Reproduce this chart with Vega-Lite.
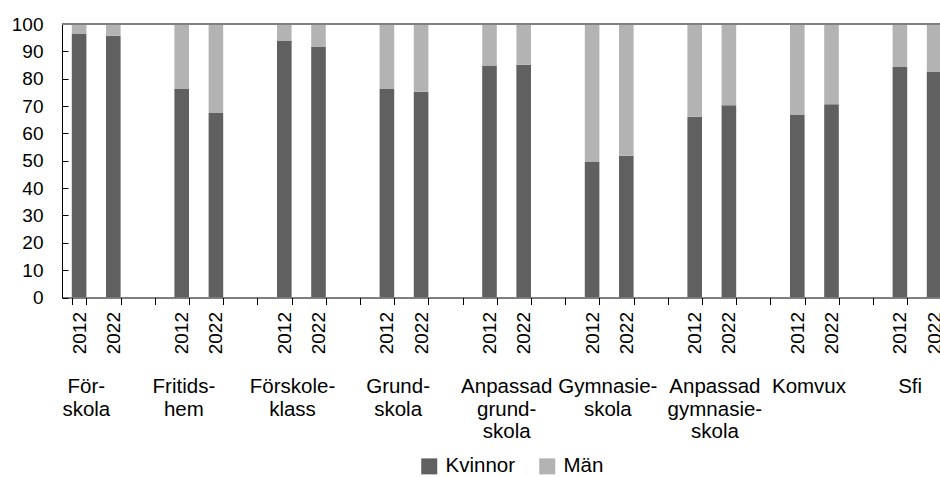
{
  "$schema": "https://vega.github.io/schema/vega-lite/v6.json",
  "autosize": {"type": "none"},
  "width": 878,
  "height": 273.5,
  "padding": {"left": 62, "top": 24, "right": 0, "bottom": 179.5},
  "background": "white",
  "config": {
    "font": "Liberation Sans",
    "view": {"stroke": null},
    "axis": {"labelColor": "black", "domainColor": "black", "tickColor": "black", "grid": false, "title": null, "labelFontSize": 19, "labelFont": "Liberation Sans"}
  },
  "data": {
    "values": [
      {"slot": "Förskola|2012", "kon": "Kvinnor", "andel": 96.5},
      {"slot": "Förskola|2012", "kon": "Män", "andel": 3.5},
      {"slot": "Förskola|2022", "kon": "Kvinnor", "andel": 95.7},
      {"slot": "Förskola|2022", "kon": "Män", "andel": 4.3},
      {"slot": "Fritidshem|2012", "kon": "Kvinnor", "andel": 76.2},
      {"slot": "Fritidshem|2012", "kon": "Män", "andel": 23.8},
      {"slot": "Fritidshem|2022", "kon": "Kvinnor", "andel": 67.5},
      {"slot": "Fritidshem|2022", "kon": "Män", "andel": 32.5},
      {"slot": "Förskoleklass|2012", "kon": "Kvinnor", "andel": 93.8},
      {"slot": "Förskoleklass|2012", "kon": "Män", "andel": 6.2},
      {"slot": "Förskoleklass|2022", "kon": "Kvinnor", "andel": 91.6},
      {"slot": "Förskoleklass|2022", "kon": "Män", "andel": 8.4},
      {"slot": "Grundskola|2012", "kon": "Kvinnor", "andel": 76.2},
      {"slot": "Grundskola|2012", "kon": "Män", "andel": 23.8},
      {"slot": "Grundskola|2022", "kon": "Kvinnor", "andel": 75.2},
      {"slot": "Grundskola|2022", "kon": "Män", "andel": 24.8},
      {"slot": "Anpassad grundskola|2012", "kon": "Kvinnor", "andel": 84.8},
      {"slot": "Anpassad grundskola|2012", "kon": "Män", "andel": 15.2},
      {"slot": "Anpassad grundskola|2022", "kon": "Kvinnor", "andel": 85.1},
      {"slot": "Anpassad grundskola|2022", "kon": "Män", "andel": 14.9},
      {"slot": "Gymnasieskola|2012", "kon": "Kvinnor", "andel": 49.7},
      {"slot": "Gymnasieskola|2012", "kon": "Män", "andel": 50.3},
      {"slot": "Gymnasieskola|2022", "kon": "Kvinnor", "andel": 51.8},
      {"slot": "Gymnasieskola|2022", "kon": "Män", "andel": 48.2},
      {"slot": "Anpassad gymnasieskola|2012", "kon": "Kvinnor", "andel": 66.1},
      {"slot": "Anpassad gymnasieskola|2012", "kon": "Män", "andel": 33.9},
      {"slot": "Anpassad gymnasieskola|2022", "kon": "Kvinnor", "andel": 70.3},
      {"slot": "Anpassad gymnasieskola|2022", "kon": "Män", "andel": 29.7},
      {"slot": "Komvux|2012", "kon": "Kvinnor", "andel": 66.7},
      {"slot": "Komvux|2012", "kon": "Män", "andel": 33.3},
      {"slot": "Komvux|2022", "kon": "Kvinnor", "andel": 70.7},
      {"slot": "Komvux|2022", "kon": "Män", "andel": 29.3},
      {"slot": "Sfi|2012", "kon": "Kvinnor", "andel": 84.3},
      {"slot": "Sfi|2012", "kon": "Män", "andel": 15.7},
      {"slot": "Sfi|2022", "kon": "Kvinnor", "andel": 82.6},
      {"slot": "Sfi|2022", "kon": "Män", "andel": 17.4}
    ]
  },
  "resolve": {"axis": {"x": "independent"}},
  "layer": [
    {
      "mark": {"type": "bar", "clip": true},
      "encoding": {
        "x": {
          "field": "slot", "type": "nominal", "sort": null,
          "scale": {
            "domain": ["Förskola|2012", "Förskola|2022", "Förskola|", "Fritidshem|2012", "Fritidshem|2022", "Fritidshem|", "Förskoleklass|2012", "Förskoleklass|2022", "Förskoleklass|", "Grundskola|2012", "Grundskola|2022", "Grundskola|", "Anpassad grundskola|2012", "Anpassad grundskola|2022", "Anpassad grundskola|", "Gymnasieskola|2012", "Gymnasieskola|2022", "Gymnasieskola|", "Anpassad gymnasieskola|2012", "Anpassad gymnasieskola|2022", "Anpassad gymnasieskola|", "Komvux|2012", "Komvux|2022", "Komvux|", "Sfi|2012", "Sfi|2022", "Sfi|"],
            "range": [0, 923.4],
            "paddingInner": 0.573,
            "paddingOuter": 0.2865
          },
          "axis": {
            "orient": "bottom",
            "labelExpr": "split(datum.value, '|')[1]",
            "labelAngle": -90,
            "labelPadding": 7,
            "tickSize": 7,
            "tickBand": "extent",
            "labelOverlap": false
          }
        },
        "y": {
          "field": "andel", "type": "quantitative", "stack": "zero",
          "scale": {"domain": [0, 100], "nice": false},
          "axis": {"values": [0, 10, 20, 30, 40, 50, 60, 70, 80, 90, 100], "tickSize": -6, "labelPadding": 25, "labelOverlap": false}
        },
        "color": {
          "field": "kon", "type": "nominal",
          "scale": {"domain": ["Kvinnor", "Män"], "range": ["#606060", "#b3b3b3"]},
          "legend": {
            "title": null, "orient": "none", "legendX": 357, "legendY": 432, "direction": "horizontal",
            "symbolType": "square", "symbolSize": 256, "symbolStrokeWidth": 0, "symbolOpacity": 1,
            "labelFontSize": 20.5, "labelColor": "black", "labelOffset": 6, "labelBaseline": "middle", "columnPadding": 21, "padding": 0
          }
        },
        "order": {"field": "kon", "sort": "ascending"}
      }
    },
    {
      "mark": {"type": "point", "opacity": 0},
      "encoding": {
        "x": {
          "field": "slot", "type": "nominal", "sort": null,
          "axis": {
            "orient": "bottom",
            "domain": false,
            "ticks": false,
            "labelAngle": 0,
            "labelAlign": "center",
            "labelBaseline": "top",
            "labelFontSize": 20.5,
            "labelPadding": 79,
            "labelOffset": {
              "condition": [
                {"test": "datum.value == 'Förskola|2022'", "value": -27},
                {"test": "datum.value == 'Fritidshem|2022'", "value": -32},
                {"test": "datum.value == 'Förskoleklass|2022'", "value": -26},
                {"test": "datum.value == 'Grundskola|2022'", "value": -23},
                {"test": "datum.value == 'Anpassad grundskola|2022'", "value": -17},
                {"test": "datum.value == 'Gymnasieskola|2022'", "value": -18.5},
                {"test": "datum.value == 'Anpassad gymnasieskola|2022'", "value": -14},
                {"test": "datum.value == 'Komvux|2022'", "value": -22.5}
              ],
              "value": -24
            },
            "labelLineHeight": 22.5,
            "labelOverlap": false,
            "labelExpr": "{'Förskola|2022': ['För-', 'skola'], 'Fritidshem|2022': ['Fritids-', 'hem'], 'Förskoleklass|2022': ['Förskole-', 'klass'], 'Grundskola|2022': ['Grund-', 'skola'], 'Anpassad grundskola|2022': ['Anpassad', 'grund-', 'skola'], 'Gymnasieskola|2022': ['Gymnasie-', 'skola'], 'Anpassad gymnasieskola|2022': ['Anpassad', 'gymnasie-', 'skola'], 'Komvux|2022': 'Komvux', 'Sfi|2022': 'Sfi'}[datum.value] || ''"
          }
        }
      }
    },
    {
      "mark": {"type": "rule", "color": "#808080", "strokeWidth": 1.5},
      "encoding": {
        "y": {
          "datum": 100, "type": "quantitative",
          "axis": {"values": [0, 10, 20, 30, 40, 50, 60, 70, 80, 90, 100], "tickSize": -6, "labelPadding": 25, "labelOverlap": false}
        }
      }
    }
  ]
}
